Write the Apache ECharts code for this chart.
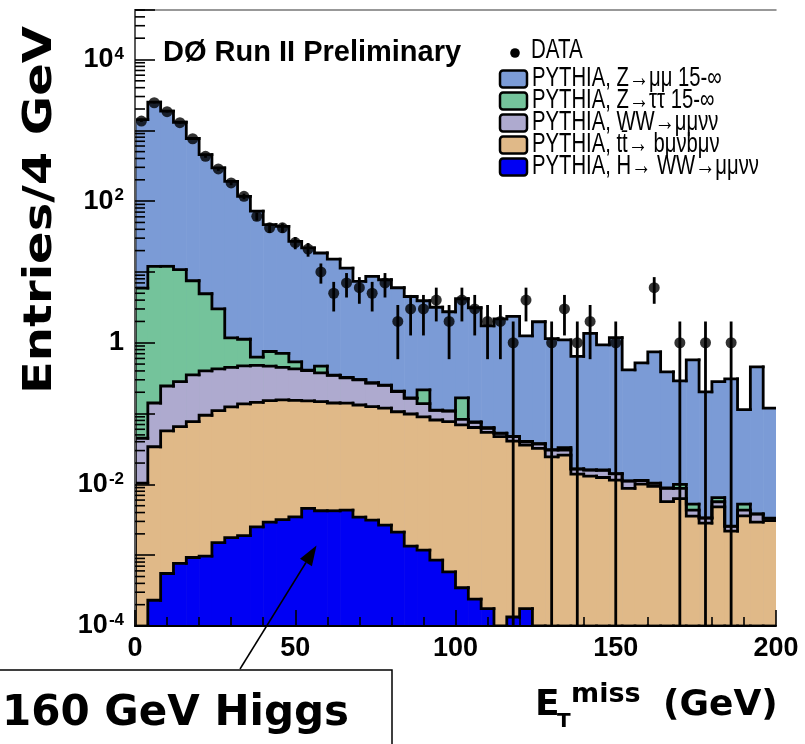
<!DOCTYPE html>
<html>
<head>
<meta charset="utf-8">
<script src="https://cdn.jsdelivr.net/npm/echarts@6/dist/echarts.min.js"></script>
<style>
html,body{margin:0;padding:0;background:#fff;}
#c{width:805px;height:744px;}
</style>
</head>
<body>
<div id="c"></div>
<script>
// ---------------- data ----------------
const binWidth = 4;          // GeV per bin
const nBins = 50;            // 0 .. 200 GeV
const xTickLabels = ['0', '50', '100', '150', '200'];
const yLabelExponents = [-4, -2, 0, 2, 4];

// visible (stacked) top of each histogram layer, per 4 GeV bin
const stackZmumu = [1420, 2500, 1860, 1300, 766, 455, 295, 190, 117, 72,
  46.5, 44, 27, 21.8, 18.5, 15.2, 11.3, 7.34, 8.64, 7.76,
  5.98, 4.50, 3.92, 3.17, 2.74, 4.18, 3.12, 1.73, 2.18, 2.35,
  1.25, 1.98, 1.14, 1.10, 0.643, 1.36, 0.933, 1.18, 0.414, 0.520,
  0.743, 0.387, 0.289, 0.573, 0.202, 0.282, 0.308, 0.114, 0.456, 0.119];

const stackZtautau = [5.92, 12.0, 12.0, 10.8, 7.51, 4.92, 3.01, 1.17, 1.12, 0.625,
  0.752, 0.708, 0.537, 0.41, 0.467, 0.35, 0.325, 0.302, 0.272, 0.252,
  0.207, 0.166, 0.216, 0.112, 0.109, 0.166, 0.076, 0.063, 0.053, 0.0475,
  0.0405, 0.0375, 0.031, 0.033, 0.0166, 0.016, 0.016, 0.0142, 0.0112, 0.0114,
  0.0104, 0.0089, 0.0100, 0.00526, 0.00336, 0.0065, 0.00257, 0.00526, 0.00383, 0.00333];

const stackWW = [0.0448, 0.141, 0.245, 0.282, 0.352, 0.400, 0.427, 0.449, 0.471, 0.479,
  0.467, 0.449, 0.427, 0.403, 0.375, 0.346, 0.32, 0.30, 0.27, 0.25,
  0.205, 0.164, 0.138, 0.111, 0.108, 0.083, 0.075, 0.062, 0.0526, 0.0471,
  0.0401, 0.0372, 0.0305, 0.0305, 0.0164, 0.0159, 0.0158, 0.0141, 0.0111, 0.0113,
  0.0103, 0.00877, 0.0088, 0.00433, 0.00333, 0.00568, 0.00255, 0.00433, 0.00380, 0.00330];

const stackTTbar = [0.0104, 0.0340, 0.0568, 0.0653, 0.0767, 0.0946, 0.110, 0.124, 0.137, 0.144,
  0.152, 0.156, 0.154, 0.151, 0.147, 0.141, 0.140, 0.132, 0.125, 0.119,
  0.106, 0.0986, 0.0895, 0.0811, 0.0767, 0.0690, 0.0636, 0.0541, 0.0471, 0.0409,
  0.0360, 0.0323, 0.0245, 0.0259, 0.0140, 0.0131, 0.0125, 0.0115, 0.00877, 0.0101,
  0.00938, 0.00571, 0.00630, 0.00356, 0.00284, 0.00482, 0.00218, 0.00360, 0.00293, 0.00308];

const higgs = [0, 2.31e-4, 5.51e-4, 7.64e-4, 9.27e-4, 9.68e-4, 1.50e-3, 1.77e-3, 1.89e-3, 2.51e-3,
  2.93e-3, 3.18e-3, 3.48e-3, 4.58e-3, 4.24e-3, 4.24e-3, 4.33e-3, 3.44e-3, 3.13e-3, 2.65e-3,
  2.11e-3, 1.34e-3, 1.18e-3, 8.49e-4, 5.81e-4, 3.47e-4, 2.39e-4, 1.76e-4, 0, 1.34e-4,
  1.76e-4, 0, 0, 0, 0, 0, 0, 0, 0, 0,
  0, 0, 0, 0, 0, 0, 0, 0, 0, 0];

// observed events per bin
const dataCounts = [1350, 2450, 1830, 1280, 760, 430, 285, 181, 117, 61,
  42, 42, 26, 21, 10, 5, 7, 6, 5, 7,
  2, 3, 3, 4, 2, 4, 3, 2, 2, 1,
  4, 0, 1, 3, 1, 2, 0, 1, 0, 0,
  6, 0, 1, 0, 1, 0, 1, 0, 0, 0];

const dataName = 'DATA';
const layerNames = ['PYTHIA, Z\u2192\u03bc\u03bc 15-\u221e', 'PYTHIA, Z\u2192\u03c4\u03c4 15-\u221e',
  'PYTHIA, WW\u2192\u03bc\u03bc\u03bd\u03bd', 'PYTHIA, tt\u0304\u2192 b\u03bc\u03bdb\u03bc\u03bd',
  'PYTHIA, H\u2192 WW\u2192\u03bc\u03bc\u03bd\u03bd'];
const layerColors = ['#7b9bd6', '#74c39b', '#aeaacf', '#e0b988', '#0000f4'];
const layerValues = [stackZmumu, stackZtautau, stackWW, stackTTbar, higgs];

// ---------------- chart ----------------
const yMin = 1e-4, yMax = 5e4;
const SANS = "'Liberation Sans', Arial, sans-serif";
const DJV = "'DejaVu Sans', sans-serif";
const chart = echarts.init(document.getElementById('c'));

const series = [];
layerValues.forEach((vals, li) => {
  series.push({
    type: 'custom', name: layerNames[li], coordinateSystem: 'cartesian2d',
    clip: true, z: 2, silent: true,
    itemStyle: { color: layerColors[li] },
    encode: { x: 0, y: 1 },
    data: vals.map((v, i) => [i * binWidth + binWidth / 2, Math.max(v, yMin)]),
    renderItem: (params, api) => {
      const i = params.dataIndex;
      const v = Math.max(vals[i], yMin);
      const a = api.coord([i * binWidth, v]);
      const b = api.coord([(i + 1) * binWidth, yMin]);
      return { type: 'rect', shape: { x: a[0], y: a[1], width: b[0] - a[0] + 0.6, height: b[1] - a[1] },
               style: { fill: layerColors[li] } };
    }
  });
});
layerValues.forEach((vals, li) => {
  series.push({
    type: 'custom', coordinateSystem: 'cartesian2d', clip: true, z: 3, silent: true,
    encode: { x: 0, y: 1 },
    data: vals.map((v, i) => [i * binWidth + binWidth / 2, Math.max(v, yMin)]),
    renderItem: (params, api) => {
      const i = params.dataIndex;
      const v = Math.max(vals[i], yMin);
      const pv = i > 0 ? Math.max(vals[i - 1], yMin) : yMin;
      const p0 = api.coord([i * binWidth, pv]);
      const p1 = api.coord([i * binWidth, v]);
      const p2 = api.coord([(i + 1) * binWidth, v]);
      return { type: 'polyline', shape: { points: [p0, p1, p2] },
               style: { stroke: '#000', lineWidth: 2.8, fill: null, lineCap: 'square', lineJoin: 'miter' } };
    }
  });
});

const dataPoints = [];
dataCounts.forEach((n, i) => { if (n > 0) dataPoints.push([i * binWidth + binWidth / 2, n]); });

series.push({
  type: 'custom', coordinateSystem: 'cartesian2d', clip: true, z: 9, silent: true,
  encode: { x: 0, y: 1 }, data: dataPoints,
  renderItem: (params, api) => {
    const c = api.value(0), n = api.value(1), e = Math.sqrt(n);
    const t = api.coord([c, n + e]);
    const b = api.coord([c, Math.max(n - e, yMin)]);
    return { type: 'line', shape: { x1: t[0], y1: t[1], x2: b[0], y2: b[1] },
             style: { stroke: '#000', lineWidth: 2.8 } };
  }
});
series.push({
  type: 'scatter', name: dataName, data: dataPoints, symbol: 'circle', symbolSize: 11,
  itemStyle: { color: '#000' }, z: 10, silent: true
});

// minor log ticks (2..9 x 10^n) on the y axis
const minorTickVals = [];
for (let e = -4; e <= 4; e++) for (let k = 2; k <= 9; k++) {
  const v = k * Math.pow(10, e); if (v <= yMax) minorTickVals.push([0, v]);
}
series.push({
  type: 'custom', coordinateSystem: 'cartesian2d', z: 12, silent: true,
  encode: { x: 0, y: 1 }, data: minorTickVals,
  renderItem: (params, api) => {
    const p = api.coord([api.value(0), api.value(1)]);
    return { type: 'line', shape: { x1: p[0], y1: p[1], x2: p[0] + 10, y2: p[1] },
             style: { stroke: '#000', lineWidth: 1.6 } };
  }
});

// legend (drawn as graphics so the condensed lettering can be matched)
const legendGraphics = [
  { type: 'circle', z: 20, shape: { cx: 515, cy: 53, r: 4.8 }, style: { fill: '#000' } },
  { type: 'text', x: 531, y: 51, scaleX: 0.76, z: 20,
    style: { text: dataName, fontFamily: SANS, fontSize: 27, fill: '#000', align: 'left', verticalAlign: 'middle' } }
];
layerNames.forEach((n, i) => {
  const cy = 79 + i * 22;
  legendGraphics.push({ type: 'rect', z: 20, shape: { x: 500, y: cy - 8.5, width: 27, height: 17, r: 3 },
    style: { fill: layerColors[i], stroke: '#000', lineWidth: 2.5 } });
  legendGraphics.push({ type: 'text', x: 532, y: cy, scaleX: 0.75, z: 20,
    style: { text: n, fontFamily: SANS, fontSize: 27, fill: '#000', align: 'left', verticalAlign: 'middle' } });
});

// arrow geometry for the annotation
const tail = [240, 669], tip = [316.5, 545.5];
const dx = tip[0] - tail[0], dy = tip[1] - tail[1], L = Math.hypot(dx, dy);
const ux = dx / L, uy = dy / L, hl = 20, hw = 7;
const bx = tip[0] - hl * ux, by = tip[1] - hl * uy;
const head = [[tip[0], tip[1]], [bx - hw * uy, by + hw * ux], [bx + hw * uy, by - hw * ux]];

const option = {
  animation: false,
  backgroundColor: '#fff',
  grid: { left: 135, top: 10, width: 641, height: 616, show: false },
  xAxis: [{
    type: 'value', min: 0, max: nBins * binWidth, interval: 50, z: 11,
    axisLine: { show: true, onZero: false, lineStyle: { color: '#000', width: 2 } },
    axisTick: { show: true, inside: true, length: 16, lineStyle: { color: '#000', width: 1.6 } },
    minorTick: { show: true, splitNumber: 5, length: 9, lineStyle: { color: '#000', width: 1.6 } },
    splitLine: { show: false },
    axisLabel: {
      margin: 9, color: '#000', fontFamily: SANS, fontWeight: 'bold', fontSize: 27,
      formatter: (v) => xTickLabels[Math.round(v / 50)] ?? ''
    }
  }, {
    type: 'value', min: 0, max: nBins * binWidth, position: 'top', z: 11,
    axisLine: { show: true, lineStyle: { color: '#777', width: 1.5 } },
    axisTick: { show: false }, axisLabel: { show: false }, splitLine: { show: false }
  }],
  yAxis: [{
    type: 'log', logBase: 10, min: yMin, max: yMax, z: 11,
    axisLine: { show: true, onZero: false, lineStyle: { color: '#000', width: 2 } },
    axisTick: { show: true, inside: true, length: 20, lineStyle: { color: '#000', width: 1.6 } },
    splitLine: { show: false },
    axisLabel: {
      margin: 11, color: '#000', fontFamily: SANS, fontWeight: 'bold',
      formatter: (v) => {
        const e = Math.round(Math.log10(v));
        if (yLabelExponents.indexOf(e) < 0) return '';
        if (e === 0) return '{b|1}';
        return '{b|10}{s|' + e + '}';
      },
      rich: {
        b: { fontFamily: SANS, fontWeight: 'bold', fontSize: 27, color: '#000', lineHeight: 28 },
        s: { fontFamily: SANS, fontWeight: 'bold', fontSize: 17, color: '#000', verticalAlign: 'top', lineHeight: 28, padding: [0, 0, 0, 1] }
      }
    }
  }, {
    type: 'log', logBase: 10, min: yMin, max: yMax, position: 'right', z: 11,
    axisLine: { show: true, lineStyle: { color: '#777', width: 1.5 } },
    axisTick: { show: false }, axisLabel: { show: false }, splitLine: { show: false }
  }],
  graphic: legendGraphics.concat([
    { type: 'text', x: 163, y: 53, z: 20,
      style: { text: 'D\u00d8 Run II Preliminary', fontFamily: SANS, fontWeight: 'bold',
               fontSize: 29, fill: '#000', align: 'left', verticalAlign: 'middle' } },
    { type: 'text', x: 41, y: 210, rotation: Math.PI / 2, scaleX: 1, scaleY: 0.8, z: 20,
      style: { text: 'Entries/4 GeV', fontFamily: DJV, fontWeight: 'bold',
               fontSize: 48, fill: '#000', align: 'center', verticalAlign: 'middle' } },
    { type: 'text', x: 535, y: 706, z: 20,
      style: { text: 'E', fontFamily: DJV, fontWeight: 'bold', fontSize: 36, fill: '#000', align: 'left', verticalAlign: 'middle' } },
    { type: 'text', x: 557, y: 722, z: 20,
      style: { text: 'T', fontFamily: DJV, fontWeight: 'bold', fontSize: 20, fill: '#000', align: 'left', verticalAlign: 'middle' } },
    { type: 'text', x: 571, y: 695, z: 20,
      style: { text: 'miss', fontFamily: DJV, fontWeight: 'bold', fontSize: 27, fill: '#000', align: 'left', verticalAlign: 'middle' } },
    { type: 'text', x: 663, y: 706, z: 20,
      style: { text: '(GeV)', fontFamily: DJV, fontWeight: 'bold', fontSize: 36, fill: '#000', align: 'left', verticalAlign: 'middle' } },
    { type: 'rect', z: 18, shape: { x: -5, y: 670, width: 397, height: 100 },
      style: { fill: '#fff', stroke: '#000', lineWidth: 1.5 } },
    { type: 'text', x: 2, y: 714, z: 20,
      style: { text: '160 GeV Higgs', fontFamily: DJV, fontWeight: 'bold', fontSize: 42, fill: '#000', align: 'left', verticalAlign: 'middle' } },
    { type: 'line', z: 20, shape: { x1: tail[0], y1: tail[1], x2: bx, y2: by }, style: { stroke: '#000', lineWidth: 1.5 } },
    { type: 'polygon', z: 20, shape: { points: head }, style: { fill: '#000' } }
  ]),
  series: series
};
chart.setOption(option);
</script>
</body>
</html>
